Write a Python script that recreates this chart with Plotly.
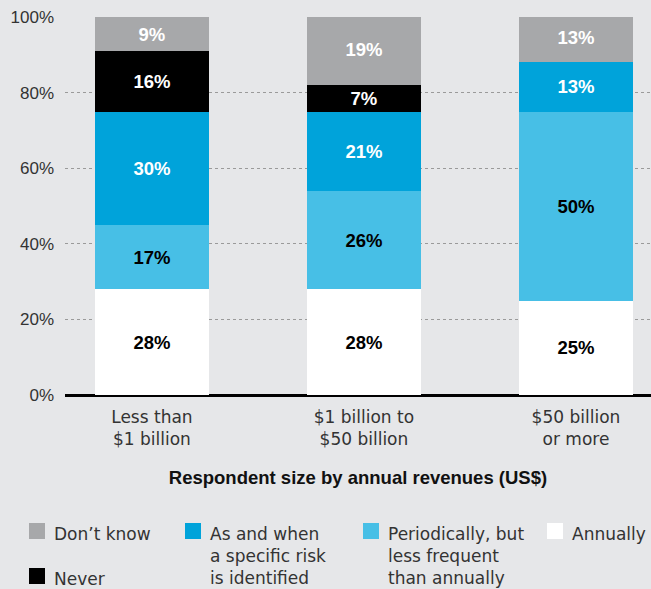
import plotly.graph_objects as go

categories = ["Less than<br>$1 billion", "$1 billion to<br>$50 billion", "$50 billion<br>or more"]
annually = [28, 28, 25]
periodically = [17, 26, 50]
as_and_when = [30, 21, 13]
never = [16, 7, 0]
dont_know = [9, 19, 13]
y_ticks = [0, 20, 40, 60, 80, 100]
y_tick_labels = ["0%", "20%", "40%", "60%", "80%", "100%"]

series = [
    ("Annually", annually, "#ffffff", "#000000"),
    ("Periodically, but<br>less frequent<br>than annually", periodically, "#47bfe6", "#000000"),
    ("As and when<br>a specific risk<br>is identified", as_and_when, "#00a3da", "#ffffff"),
    ("Never", never, "#000000", "#ffffff"),
    ("Don’t know", dont_know, "#a7a8aa", "#ffffff"),
]

FONT = "Liberation Sans, Arial, sans-serif"
WIDE = "DejaVu Sans, Liberation Sans, sans-serif"
W, H = 651, 589
ML, MR, MT, MB = 65, 0, 17, 194

x = list(range(len(categories)))
fig = go.Figure()
for name, vals, color, tcolor in series:
    fig.add_trace(go.Bar(
        x=x, y=vals, name=name, width=0.538,
        marker=dict(color=color, line=dict(width=0)),
        text=[f"{v}%" if v else "" for v in vals],
        textposition="inside", insidetextanchor="middle",
        textfont=dict(family=FONT, size=18.5, color=tcolor, weight="bold"),
        constraintext="none", showlegend=False, hoverinfo="skip",
    ))

fig.update_layout(
    barmode="stack",
    width=W, height=H,
    margin=dict(l=ML, r=MR, t=MT, b=MB),
    paper_bgcolor="#e6e7e9", plot_bgcolor="#e6e7e9",
    uniformtext=dict(minsize=18, mode="show"),
    font=dict(family=FONT, color="#333333"),
)
fig.update_xaxes(
    range=[-0.41, 2.354], tickvals=x, ticktext=categories,
    tickfont=dict(family=WIDE, size=17, color="#333333"), showgrid=False, showline=False,
    ticks="", ticklabelstandoff=10,
    title=dict(text="<b>Respondent size by annual revenues (US$)</b>",
               font=dict(family=FONT, size=18.5, color="#111111"), standoff=22),
)
fig.update_yaxes(
    range=[0, 100], tickvals=y_ticks, ticktext=y_tick_labels,
    tickfont=dict(size=17, color="#333333"),
    showgrid=True, gridcolor="#9a9a9a", griddash="dot", gridwidth=1,
    zeroline=True, zerolinecolor="#000000", zerolinewidth=2.5,
    showline=False, ticks="", ticklabelstandoff=10,
)

def px_x(p):
    return (p - ML) / (W - ML - MR)

def px_y(p):
    return (H - MB - p) / (H - MB - MT)

# Legend drawn as swatches + text (4 columns, "Never" below the first one)
legend_items = [
    ("Don’t know", "#a7a8aa", 29, 523),
    ("As and when<br>a specific risk<br>is identified", "#00a3da", 185, 523),
    ("Periodically, but<br>less frequent<br>than annually", "#47bfe6", 363, 523),
    ("Annually", "#ffffff", 547, 523),
    ("Never", "#000000", 29, 568),
]
for label, color, sx, sy in legend_items:
    fig.add_shape(type="rect", xref="paper", yref="paper",
                  x0=px_x(sx), x1=px_x(sx + 16), y0=px_y(sy + 16), y1=px_y(sy),
                  fillcolor=color, line=dict(width=0))
    fig.add_annotation(xref="paper", yref="paper",
                       x=px_x(sx + 23), y=px_y(sy - 1),
                       xanchor="left", yanchor="top", align="left", showarrow=False,
                       text=label, font=dict(family=WIDE, size=17, color="#333333"))

fig.write_html("out.html", config={"displayModeBar": False},
               post_script="document.body.style.margin='0';")
